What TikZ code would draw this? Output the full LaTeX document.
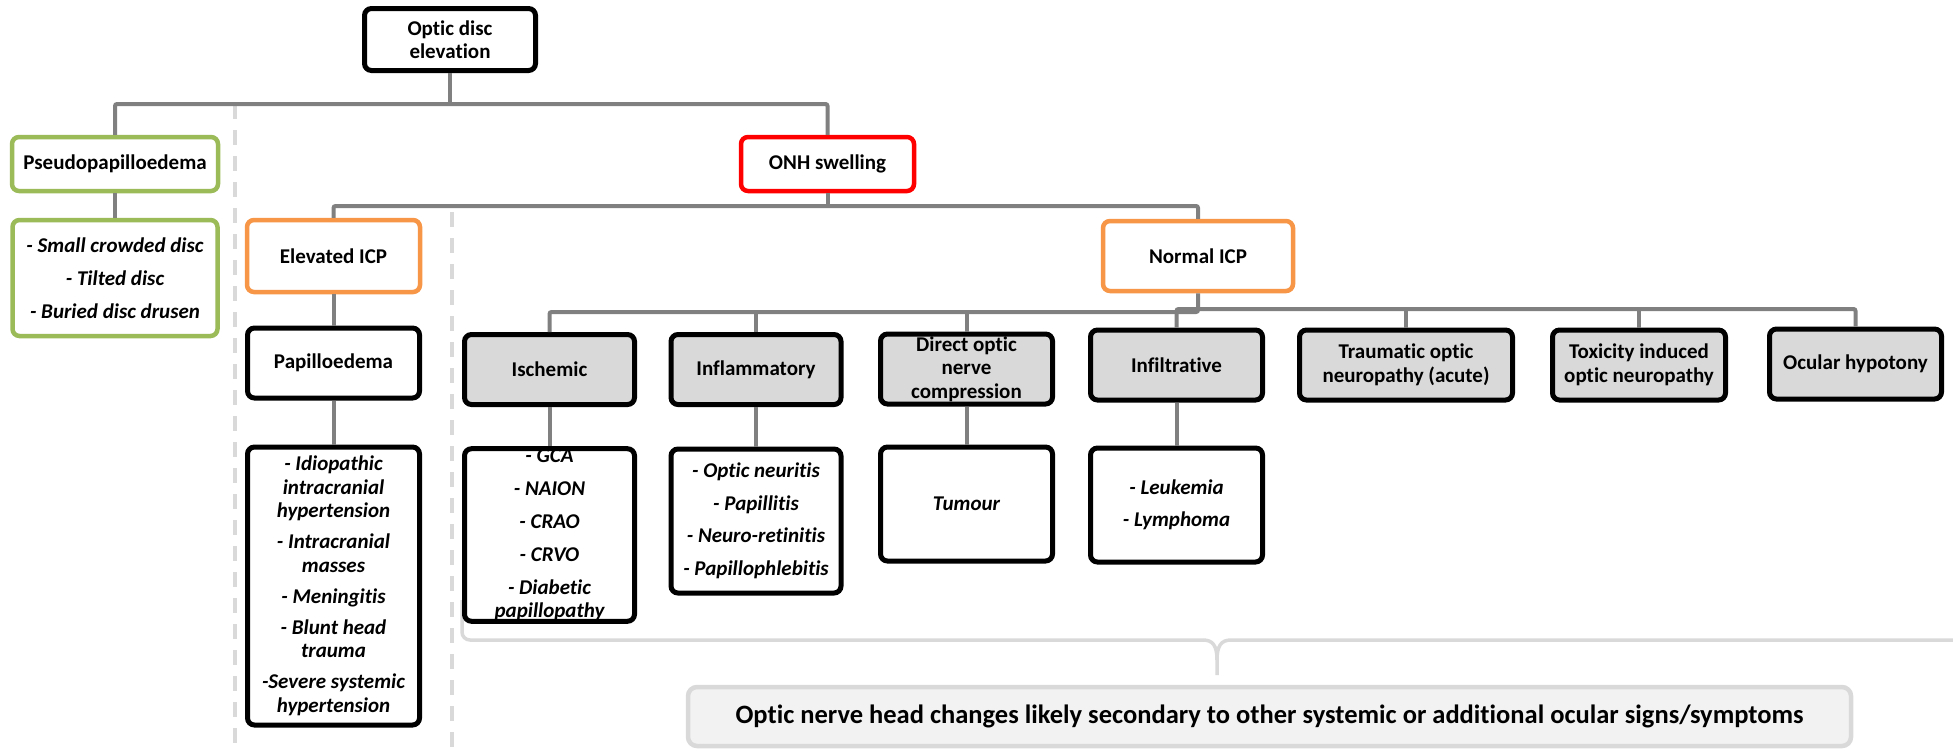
\documentclass[tikz,border=0pt]{standalone}
\usepackage{fontspec}
\setmainfont{Carlito}[Ligatures=NoCommon]
\definecolor{cgreen}{HTML}{9BBB59}
\definecolor{corange}{HTML}{F79646}
\definecolor{cred}{HTML}{FF0000}
\definecolor{cconn}{HTML}{808080}
\definecolor{clight}{HTML}{D9D9D9}
\definecolor{cpale}{HTML}{F2F2F2}
\tikzset{
  box/.style={draw=black, fill=white, rounded corners=7pt, line width=5pt, align=center,
    inner sep=0pt, font=\fontsize{21}{23.5}\selectfont\bfseries},
  listbox/.style={box, font=\fontsize{21}{23.5}\selectfont\bfseries\itshape},
  graybox/.style={box, fill=clight},
  greenbox/.style={box, draw=cgreen, line width=4.5pt},
  orangebox/.style={box, draw=corange, line width=4.5pt},
  redbox/.style={box, draw=cred, line width=4.5pt},
  conn/.style={draw=cconn, line width=4pt, rounded corners=2pt},
  sep/.style={draw=clight, line width=3.5pt, dash pattern=on 15pt off 11pt},
  bracket/.style={draw=clight, line width=3.5pt},
  notebox/.style={draw=clight, fill=cpale, rounded corners=9pt, line width=4.5pt,
    inner sep=0pt, font=\fontsize{26.5}{30}\selectfont\bfseries}
}
\begin{document}
\begin{tikzpicture}[x=1pt,y=-1pt]
\useasboundingbox (0,0) rectangle (1953,750);
% separators
\draw[sep] (235,104) -- (235,750);
\draw[sep] (452,212) -- (452,750);
% bracket
\coordinate (btip) at (1217,675);
\draw[bracket, rounded corners=8pt] (462,600) -- (462,640) -- (1203,640);
\draw[bracket] (1203,640) .. controls (1213,640) and (1217,646) .. (1217,660) -- (btip);
\draw[bracket] (1217,660) .. controls (1217,646) and (1221,640) .. (1231,640) -- (1953,640);

% nodes
\node[box, minimum width=171pt, minimum height=62pt] (top) at (450,39.5) {Optic disc\\elevation};
\node[greenbox, minimum width=206pt, minimum height=54pt] (pseudo) at (115,164) {Pseudopapilloedema};
\node[listbox, draw=cgreen, line width=4.5pt, minimum width=205pt, minimum height=116pt] (pseudolist) at (115,278)
  {- Small crowded disc\\[9.5pt]- Tilted disc\\[9.5pt]- Buried disc drusen};
\node[redbox, minimum width=173pt, minimum height=54pt] (onh) at (827.5,164) {ONH swelling};
\node[orangebox, minimum width=173pt, minimum height=72pt] (elev) at (333.5,256) {Elevated ICP};
\node[orangebox, minimum width=190pt, minimum height=70pt] (normal) at (1198,256) {Normal ICP};
\node[box, minimum width=172pt, minimum height=70pt] (pap) at (333.5,363) {Papilloedema};
\node[listbox, minimum width=172pt, minimum height=278pt] (paplist) at (333.5,586)
  {- Idiopathic\\intracranial\\hypertension\\[7.5pt]- Intracranial\\masses\\[7.5pt]- Meningitis\\[7.5pt]- Blunt head\\trauma\\[7.5pt]-Severe systemic\\hypertension};

\node[graybox, minimum width=170pt, minimum height=70pt] (isch) at (549.5,369.5) {Ischemic};
\node[graybox, minimum width=170pt, minimum height=70pt] (infl) at (756,369.5) {Inflammatory};
\node[graybox, minimum width=172pt, minimum height=70pt] (direct) at (966.5,369) {Direct optic\\nerve\\compression};
\node[graybox, minimum width=172pt, minimum height=70pt] (infil) at (1176.5,365) {Infiltrative};
\node[graybox, minimum width=213pt, minimum height=70pt] (traum) at (1406,365) {Traumatic optic\\neuropathy (acute)};
\node[graybox, minimum width=173pt, minimum height=70pt] (toxic) at (1639,365) {Toxicity induced\\optic neuropathy};
\node[graybox, minimum width=172pt, minimum height=70pt] (ocular) at (1855.5,364) {Ocular hypotony};

\node[listbox, minimum width=170pt, minimum height=172pt] (ischlist) at (549.5,535)
  {- GCA\\[9.5pt]- NAION\\[9.5pt]- CRAO\\[9.5pt]- CRVO\\[9.5pt]- Diabetic\\papillopathy};
\node[listbox, minimum width=170pt, minimum height=144pt] (infllist) at (756,521)
  {- Optic neuritis\\[9pt]- Papillitis\\[9pt]- Neuro-retinitis\\[9pt]- Papillophlebitis};
\node[listbox, minimum width=172pt, minimum height=114pt] (tumour) at (966.5,504) {Tumour};
\node[listbox, minimum width=172pt, minimum height=114pt] (leuk) at (1176.5,505)
  {- Leukemia\\[8.5pt]- Lymphoma};

\node[notebox, minimum width=1163pt, minimum height=59pt] (note) at (1269.5,716.5)
  {Optic nerve head changes likely secondary to other systemic or additional ocular signs/symptoms};

% connectors
\draw[conn] (top.south) -- (top.south |- 0,104);
\draw[conn] (pseudo.north) |- (onh.north |- 0,104) -- (onh.north);
\draw[conn] (pseudo.south) -- (pseudolist.north);
\draw[conn] (onh.south) -- (onh.south |- 0,206);
\draw[conn] (elev.north) |- (normal.north |- 0,206) -- (normal.north);
\draw[conn] (elev.south) -- (pap.north);
\draw[conn] (pap.south) -- (paplist.north);
\draw[conn] (isch.north) |- (normal.south |- 0,312) -- (normal.south);
\draw[conn] (infl.north) -- (infl.north |- 0,312);
\draw[conn] (direct.north) -- (direct.north |- 0,312);
\draw[conn] (infil.north) |- (ocular.north |- 0,309) -- (ocular.north);
\draw[conn] (traum.north) -- (traum.north |- 0,309);
\draw[conn] (toxic.north) -- (toxic.north |- 0,309);
\draw[conn] (isch.south) -- (ischlist.north);
\draw[conn] (infl.south) -- (infllist.north);
\draw[conn] (direct.south) -- (tumour.north);
\draw[conn] (infil.south) -- (leuk.north);
\end{tikzpicture}
\end{document}
